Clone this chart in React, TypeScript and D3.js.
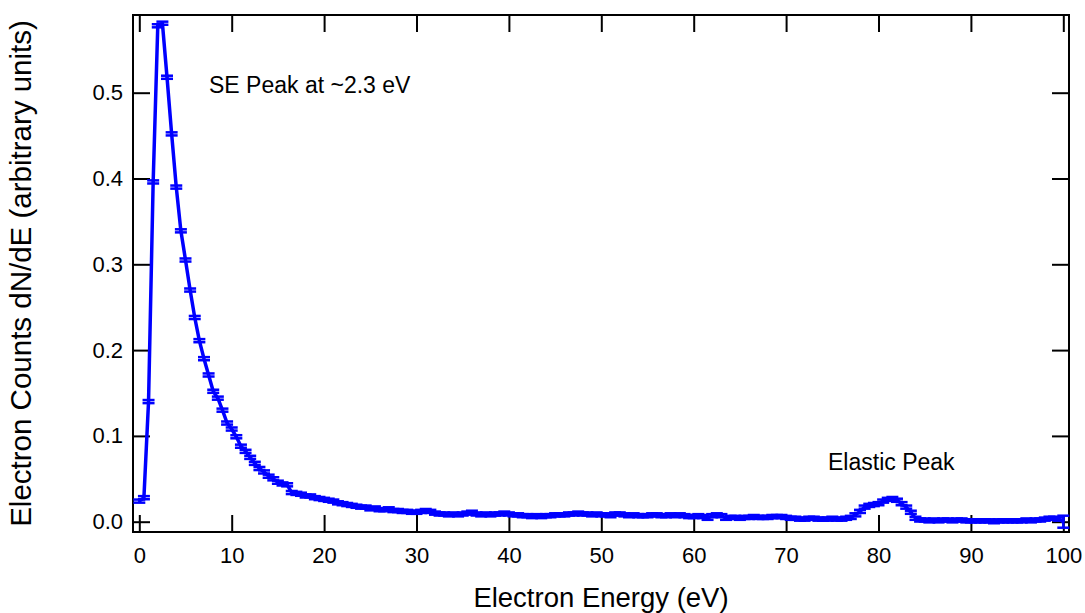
import { useEffect, useRef } from "react";
import { axisBottom, axisLeft, axisRight, axisTop, format, line, range, scaleLinear, select } from "d3";

// electron energy in eV, one point every 0.5 eV
const energies = range(0, 100.5, 0.5);

// dN/dE
const counts = [
  0.024, 0.028, 0.140, 0.396, 0.578, 0.581, 0.518, 0.452, 0.390, 0.339,
  0.305, 0.270, 0.238, 0.211, 0.190, 0.171, 0.152, 0.144, 0.130, 0.115,
  0.108, 0.099, 0.088, 0.082, 0.075, 0.068, 0.062, 0.058, 0.053, 0.050,
  0.046, 0.044, 0.043, 0.034, 0.033, 0.032, 0.030, 0.030, 0.028, 0.027,
  0.026, 0.025, 0.024, 0.022, 0.021, 0.020, 0.019, 0.018, 0.017, 0.017,
  0.015, 0.016, 0.014, 0.014, 0.015, 0.013, 0.013, 0.012, 0.012, 0.011,
  0.011, 0.012, 0.013, 0.012, 0.010, 0.009, 0.009, 0.008, 0.009, 0.008,
  0.009, 0.010, 0.011, 0.009, 0.008, 0.009, 0.008, 0.009, 0.009, 0.010,
  0.009, 0.008, 0.008, 0.007, 0.007, 0.006, 0.007, 0.006, 0.007, 0.007,
  0.008, 0.008, 0.008, 0.009, 0.009, 0.010, 0.009, 0.009, 0.008, 0.009,
  0.008, 0.008, 0.007, 0.009, 0.009, 0.008, 0.007, 0.008, 0.007, 0.007,
  0.007, 0.008, 0.008, 0.007, 0.007, 0.008, 0.007, 0.008, 0.007, 0.006,
  0.006, 0.007, 0.006, 0.004, 0.007, 0.008, 0.007, 0.004, 0.005, 0.005,
  0.004, 0.005, 0.005, 0.006, 0.005, 0.005, 0.005, 0.006, 0.006, 0.006,
  0.005, 0.004, 0.004, 0.003, 0.003, 0.004, 0.004, 0.003, 0.003, 0.003,
  0.004, 0.003, 0.003, 0.004, 0.005, 0.008, 0.012, 0.017, 0.019, 0.020,
  0.021, 0.024, 0.026, 0.027, 0.025, 0.021, 0.017, 0.011, 0.004, 0.002,
  0.002, 0.001, 0.002, 0.001, 0.002, 0.002, 0.001, 0.002, 0.002, 0.001,
  0.001, 0.001, 0.001, 0.001, 0.001, 0.000, 0.001, 0.001, 0.001, 0.001,
  0.001, 0.001, 0.002, 0.001, 0.002, 0.002, 0.003, 0.004, 0.004, 0.003,
  0.000,
];

// error bars: small everywhere, the last channel is noisy
const baseError = 0.0018;
const lastError = 0.007;

const xTicks = [0, 10, 20, 30, 40, 50, 60, 70, 80, 90, 100];
const yTicks = [0.0, 0.1, 0.2, 0.3, 0.4, 0.5];

const FONT = "'Liberation Sans', Arial, sans-serif";

export default function App() {
  const svgRef = useRef<SVGSVGElement>(null);

  useEffect(() => {
    const svg = select(svgRef.current);
    svg.selectAll("*").remove();

    const left = 133, right = 1069, top = 15, bottom = 532;

    const xScale = scaleLinear().domain([0, 100]).range([139.3, 1063.3]);
    const yScale = scaleLinear().domain([0, 0.5]).range([521.7, 92.7]);

    const data = energies.map((e, i) => ({
      e,
      v: counts[i],
      err: i === energies.length - 1 ? lastError : baseError,
    }));

    // axes, ticks pointing inward on all four sides
    const tickLen = 17;
    const styleAxis = (g) => {
      g.select(".domain").remove();
      g.selectAll("line").attr("stroke", "black").attr("stroke-width", 2);
      g.selectAll("text")
        .attr("fill", "black")
        .style("font-family", FONT)
        .style("font-size", "22px");
    };

    svg.append("g")
      .attr("transform", `translate(0,${bottom})`)
      .call(axisBottom(xScale).tickValues(xTicks).tickSize(-tickLen).tickPadding(15))
      .call(styleAxis);

    svg.append("g")
      .attr("transform", `translate(0,${top})`)
      .call(axisTop(xScale).tickValues(xTicks).tickSize(-tickLen).tickFormat(() => ""))
      .call(styleAxis);

    svg.append("g")
      .attr("transform", `translate(${left},0)`)
      .call(axisLeft(yScale).tickValues(yTicks).tickSize(-tickLen).tickPadding(10).tickFormat(format(".1f")))
      .call(styleAxis);

    svg.append("g")
      .attr("transform", `translate(${right},0)`)
      .call(axisRight(yScale).tickValues(yTicks).tickSize(-tickLen).tickFormat(() => ""))
      .call(styleAxis);

    // frame
    svg.append("rect")
      .attr("x", left)
      .attr("y", top)
      .attr("width", right - left)
      .attr("height", bottom - top)
      .attr("fill", "none")
      .attr("stroke", "black")
      .attr("stroke-width", 2);

    // trace
    const trace = line<any>()
      .x(d => xScale(d.e))
      .y(d => yScale(d.v));

    svg.append("path")
      .datum(data)
      .attr("d", trace)
      .attr("fill", "none")
      .attr("stroke", "#0000ff")
      .attr("stroke-width", 3.5)
      .attr("stroke-linejoin", "round");

    // error bars with caps
    const capHalf = 6;
    const bars = svg.append("g")
      .attr("stroke", "#0000ff")
      .attr("stroke-width", 2.5);

    bars.selectAll(".whisker")
      .data(data)
      .join("line")
      .attr("class", "whisker")
      .attr("x1", d => xScale(d.e))
      .attr("x2", d => xScale(d.e))
      .attr("y1", d => yScale(d.v - d.err))
      .attr("y2", d => yScale(d.v + d.err));

    bars.selectAll(".capTop")
      .data(data)
      .join("line")
      .attr("class", "capTop")
      .attr("x1", d => xScale(d.e) - capHalf)
      .attr("x2", d => xScale(d.e) + capHalf)
      .attr("y1", d => yScale(d.v + d.err))
      .attr("y2", d => yScale(d.v + d.err));

    bars.selectAll(".capBottom")
      .data(data)
      .join("line")
      .attr("class", "capBottom")
      .attr("x1", d => xScale(d.e) - capHalf)
      .attr("x2", d => xScale(d.e) + capHalf)
      .attr("y1", d => yScale(d.v - d.err))
      .attr("y2", d => yScale(d.v - d.err));

    // annotations
    svg.append("text")
      .attr("x", 209)
      .attr("y", 93)
      .style("font-family", FONT)
      .style("font-size", "23px")
      .text("SE Peak at ~2.3 eV");

    svg.append("text")
      .attr("x", 828)
      .attr("y", 470)
      .style("font-family", FONT)
      .style("font-size", "23px")
      .text("Elastic Peak");

    // axis titles
    svg.append("text")
      .attr("x", (left + right) / 2)
      .attr("y", 607)
      .attr("text-anchor", "middle")
      .style("font-family", FONT)
      .style("font-size", "27.5px")
      .text("Electron Energy (eV)");

    svg.append("text")
      .attr("transform", `translate(31,${(top + bottom) / 2}) rotate(-90)`)
      .attr("text-anchor", "middle")
      .style("font-family", FONT)
      .style("font-size", "29.5px")
      .text("Electron Counts dN/dE (arbitrary units)");
  }, []);

  return (
    <div style={{ position: "absolute", left: 0, top: 0 }}>
      <svg ref={svgRef} width={1085} height={613} style={{ display: "block", background: "white" }}></svg>
    </div>
  );
}
